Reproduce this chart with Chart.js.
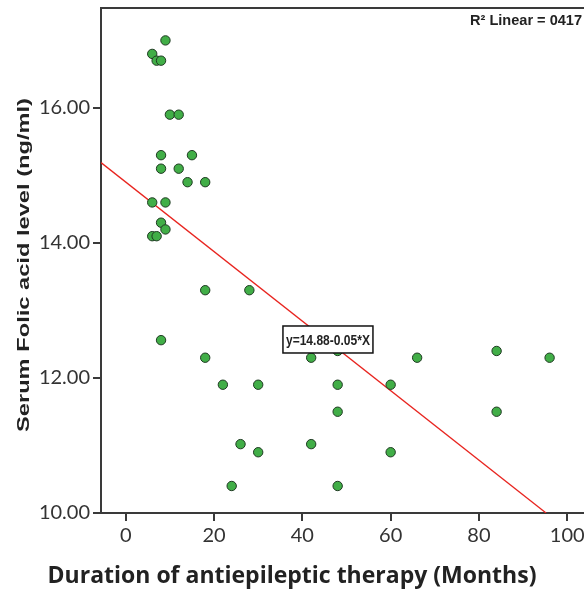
<!DOCTYPE html>
<html>
<head>
<meta charset="utf-8">
<script src="https://cdn.jsdelivr.net/npm/chart.js@4/dist/chart.umd.min.js"></script>
<style>
  html, body { margin: 0; padding: 0; background: #fff; }
  #wrap { width: 584px; height: 590px; }
</style>
</head>
<body>
<div id="wrap"><canvas id="scatter"></canvas></div>
<script>
// months of therapy vs serum folic acid (ng/ml)
const months = [9, 6, 7, 8, 10, 12, 8, 15, 8, 12, 14, 18, 6, 9, 8, 9, 6, 7, 18, 28,
  8, 18, 42, 48, 22, 30, 48, 48, 26, 30, 42, 24, 48, 60, 66, 84, 96, 84, 60];
const folic = [17.0, 16.8, 16.7, 16.7, 15.9, 15.9, 15.3, 15.3, 15.1, 15.1, 14.9, 14.9, 14.6, 14.6, 14.3, 14.2, 14.1, 14.1, 13.3, 13.3,
  12.56, 12.3, 12.3, 12.4, 11.9, 11.9, 11.9, 11.5, 11.02, 10.9, 11.02, 10.4, 10.4, 11.9, 12.3, 12.4, 12.3, 11.5, 10.9];

// fit line end points
const fitX = [-5.6, 95.2];
const fitY = [15.19, 10.0];

const xTicks = [0, 20, 40, 60, 80, 100];
const yTicks = [10, 12, 14, 16];

const xTitle = 'Duration of antiepileptic therapy (Months)';
const yTitle = 'Serum Folic acid level (ng/ml)';
const eqText = 'y=14.88-0.05*X';
const eqPos = [45.8, 12.57];
const r2Text = 'R\u00B2 Linear = 0417';

const ctx = document.querySelector('#scatter')

const axisColor = '#3a3a3a';

// draw narrow bold text squeezed to a given width
function narrowText(c, text, x, y, size, width) {
  c.font = 'bold ' + size + 'px "Liberation Sans"';
  const k = width / c.measureText(text).width;
  c.save();
  c.translate(x, y);
  c.scale(k, 1);
  c.fillText(text, 0, 0);
  c.restore();
}

const extras = {
  id: 'extras',
  afterDraw(chart) {
    const c = chart.ctx;
    const a = chart.chartArea;
    const W = chart.width;
    c.save();
    // top frame line, and bottom axis running to the edge
    c.strokeStyle = axisColor;
    c.lineWidth = 2;
    c.beginPath();
    c.moveTo(a.left - 1, a.top);
    c.lineTo(W, a.top);
    c.moveTo(a.right - 1, a.bottom);
    c.lineTo(W, a.bottom);
    c.stroke();

    c.fillStyle = '#222';
    c.textBaseline = 'middle';

    // r squared label
    c.textAlign = 'right';
    narrowText(c, r2Text, 582, 21, 14, 112);

    // equation box
    const px = chart.scales.x.getPixelForValue(eqPos[0]);
    const py = chart.scales.y.getPixelForValue(eqPos[1]);
    const w = 90, h = 27;
    c.fillStyle = '#fff';
    c.fillRect(px - w / 2, py - h / 2, w, h);
    c.strokeStyle = '#111';
    c.lineWidth = 1.5;
    c.strokeRect(px - w / 2, py - h / 2, w, h);
    c.fillStyle = '#222';
    c.textAlign = 'center';
    narrowText(c, eqText, px, py + 1, 15, 84);

    // y title
    c.save();
    c.translate(25, 265);
    c.rotate(-Math.PI / 2);
    narrowText(c, yTitle, 0, 0, 16, 334);
    c.restore();

    // x title
    c.font = 'bold 23px "Open Sans"';
    c.fillText(xTitle, 292, 576);
    c.restore();
  }
};

new Chart(ctx, {
  type: 'scatter',
  data: {
    datasets: [
      {
        data: fitX.map((x, i) => ({ x: x, y: fitY[i] })),
        showLine: true,
        borderColor: '#e8241f',
        borderWidth: 1.3,
        pointRadius: 0,
        order: 2
      },
      {
        data: months.map((m, i) => ({ x: m, y: folic[i] })),
        backgroundColor: '#41ae47',
        borderColor: '#1f3a22',
        borderWidth: 1,
        pointRadius: 4.7,
        order: 1
      }
    ]
  },
  options: {
    responsive: true,
    maintainAspectRatio: false,
    animation: false,
    layout: { padding: { top: 8, right: 0, left: 0, bottom: 0 } },
    plugins: {
      legend: false,
      tooltip: { enabled: false }
    },
    scales: {
      x: {
        type: 'linear',
        min: -5.6,
        max: 102.5,
        afterBuildTicks: s => { s.ticks = xTicks.map(v => ({ value: v })) },
        afterFit: s => {
          s.height = 77;
          s.paddingLeft = 0;
          s.paddingRight = 0;
        },
        grid: {
          drawOnChartArea: false,
          color: axisColor,
          lineWidth: 2,
          tickLength: 8
        },
        border: { color: axisColor, width: 2 },
        ticks: {
          color: '#333',
          padding: 3,
          font: { family: 'Lato', size: 20 }
        }
      },
      y: {
        min: 10,
        max: 17.48,
        afterBuildTicks: s => { s.ticks = yTicks.map(v => ({ value: v })) },
        afterFit: s => {
          s.width = 101;
          s.paddingTop = 0;
          s.paddingBottom = 0;
        },
        grid: {
          drawOnChartArea: false,
          color: axisColor,
          lineWidth: 2,
          tickLength: 8
        },
        border: { color: axisColor, width: 2 },
        ticks: {
          color: '#333',
          padding: 3,
          font: { family: 'Lato', size: 20 },
          callback: v => v.toFixed(2)
        }
      }
    }
  },
  plugins: [extras]
})
</script>
</body>
</html>
